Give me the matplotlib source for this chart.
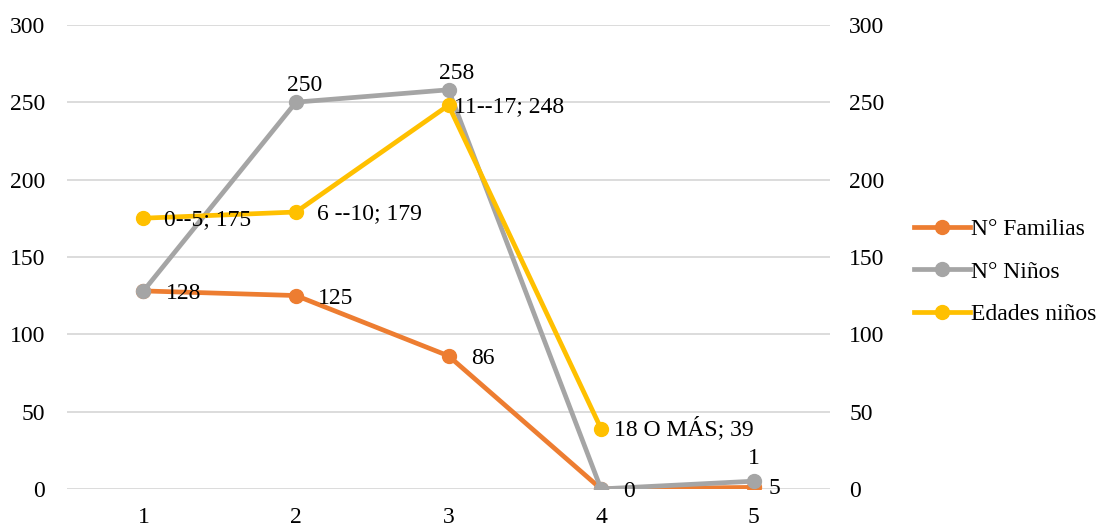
import matplotlib
matplotlib.use('Agg')
import matplotlib.pyplot as plt

plt.rcParams['font.family'] = ['Liberation Serif', 'DejaVu Serif']

# Datos
x = [1, 2, 3, 4, 5]
familias = [128, 125, 86, 0, 1]
ninos = [128, 250, 258, 0, 5]
x_edades = [1, 2, 3, 4]
edades = [175, 179, 248, 39]
edades_cat = ['0--5', '6 --10', '11--17', '18 O MÁS']

c_fam = '#ED7D31'
c_nin = '#A5A5A5'
c_eda = '#FFC000'

fs = 17

fig = plt.figure(figsize=(11.02, 5.28), dpi=100)
ax = fig.add_axes([0.061, 0.074, 0.692, 0.879])

ax.plot(x, familias, color=c_fam, lw=3.4, marker='o', ms=10, label='N° Familias', zorder=3)
ax.plot(x, ninos, color=c_nin, lw=3.4, marker='o', ms=10, label='N° Niños', zorder=4)
ax.plot(x_edades, edades, color=c_eda, lw=3.4, marker='o', ms=10, label='Edades niños', zorder=5)

ax.set_xlim(0.5, 5.5)
ax.set_ylim(0, 300)
ax.set_yticks(range(0, 301, 50))
ax.set_xticks(x)
ax.grid(axis='y', color='#D9D9D9', lw=1.3)
ax.set_axisbelow(True)
for s in ax.spines.values():
    s.set_visible(False)
ax.tick_params(length=0, labelsize=fs)
ax.tick_params(axis='x', pad=13)
ax.tick_params(axis='y', pad=16)

ax2 = ax.twinx()
ax2.set_ylim(0, 300)
ax2.set_yticks(range(0, 301, 50))
for s in ax2.spines.values():
    s.set_visible(False)
ax2.tick_params(length=0, labelsize=fs, pad=14)

# etiquetas N° Familias (a la derecha)
for xi, v in zip(x[:4], familias[:4]):
    ax.annotate(str(v), (xi, v), xytext=(16, -2), textcoords='offset points',
                ha='left', va='center', fontsize=fs, zorder=6)
ax.annotate(str(familias[4]), (x[4], familias[4]), xytext=(0, 21), textcoords='offset points',
            ha='center', va='center', fontsize=fs, zorder=6)

# etiquetas N° Niños (arriba)
for xi, v in zip(x[1:3], ninos[1:3]):
    ax.annotate(str(v), (xi, v), xytext=(6, 12), textcoords='offset points',
                ha='center', va='center', fontsize=fs, zorder=6)
ax.annotate(str(ninos[4]), (x[4], ninos[4]), xytext=(11, -5), textcoords='offset points',
            ha='left', va='center', fontsize=fs, zorder=6)

# etiquetas Edades niños
offs = [(15, -1), (15, -1), (4, -1), (9, 0)]
for xi, v, c, o in zip(x_edades, edades, edades_cat, offs):
    ax.annotate(f'{c}; {v}', (xi, v), xytext=o, textcoords='offset points',
                ha='left', va='center', fontsize=fs, zorder=6)

fig.legend(*ax.get_legend_handles_labels(), loc='center left', bbox_to_anchor=(0.829, 0.485),
           frameon=False, fontsize=fs, handlelength=2.4, handletextpad=0.05,
           labelspacing=0.88, borderaxespad=0, borderpad=0)

plt.savefig('out.png', dpi=100)
